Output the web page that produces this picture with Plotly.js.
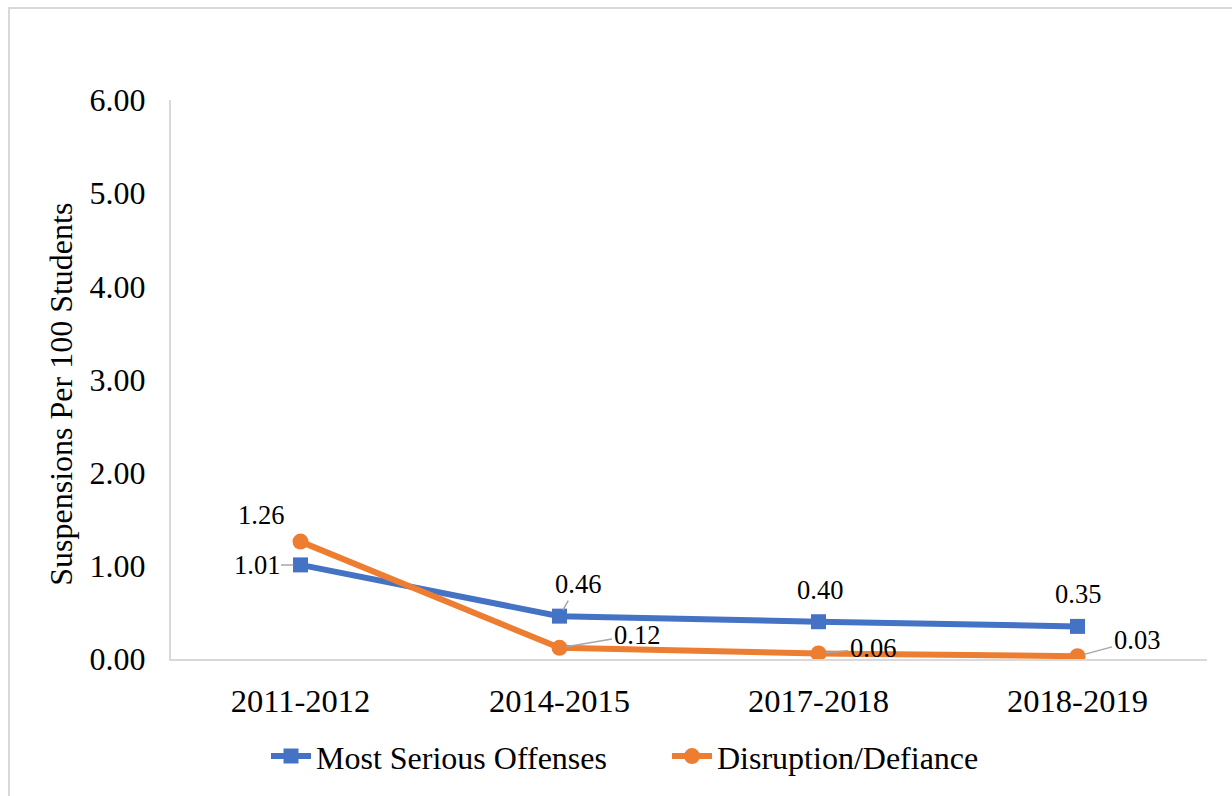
<!DOCTYPE html>
<html>
<head>
<meta charset="utf-8">
<script src="https://cdn.plot.ly/plotly-3.0.1.min.js"></script>
<style>
  html, body { margin: 0; padding: 0; background: #fff; }
  #frame { position: absolute; left: 8px; top: 7px; width: 1240px; height: 800px; border: 2px solid #D9D9D9; box-sizing: border-box; }
  #chart { position: absolute; left: 0; top: 0; width: 1232px; height: 796px; }
</style>
</head>
<body>
<div id="frame"></div>
<div id="chart"></div>
<script>
const categories = ["2011-2012", "2014-2015", "2017-2018", "2018-2019"];
const seriesNames = ["Most Serious Offenses", "Disruption/Defiance"];
const mostSerious = [1.01, 0.46, 0.40, 0.35];
const disruption = [1.26, 0.12, 0.06, 0.03];
const yTicks = [0, 1, 2, 3, 4, 5, 6];

// label offsets (pixels) and whether a leader line is drawn
const msOffsets = [[-44, 0, true], [18, -32, true], [1, -32, false], [0, -32, false]];
const ddOffsets = [[-40, -27, false], [77, -13, true], [54, -5, true], [59, -16, true]];

const font = "Liberation Serif, Times New Roman, serif";

function labels(values, offsets) {
  return values.map((v, i) => ({
    x: i, y: v, xref: 'x', yref: 'y',
    text: v.toFixed(2),
    showarrow: true,
    arrowhead: 0,
    arrowwidth: 1.5,
    arrowcolor: offsets[i][2] ? '#A6A6A6' : 'rgba(0,0,0,0)',
    standoff: 7,
    ax: offsets[i][0], ay: offsets[i][1],
    font: { family: font, size: 26.5, color: '#000' }
  }));
}

const traces = [
  {
    x: categories.map((c, i) => i), y: mostSerious, name: seriesNames[0],
    type: 'scatter', mode: 'lines+markers',
    line: { color: '#4472C4', width: 6 },
    marker: { symbol: 'square', size: 15, color: '#4472C4' }
  },
  {
    x: categories.map((c, i) => i), y: disruption, name: seriesNames[1],
    type: 'scatter', mode: 'lines+markers',
    line: { color: '#ED7D31', width: 6 },
    marker: { symbol: 'circle', size: 16, color: '#ED7D31' }
  }
];

const layout = {
  width: 1232, height: 796,
  paper_bgcolor: 'rgba(0,0,0,0)', plot_bgcolor: 'rgba(0,0,0,0)',
  margin: { l: 171, r: 25, t: 100, b: 134 },
  font: { family: font, color: '#000' },
  showlegend: true,
  legend: {
    orientation: 'h', x: 0.0917, xanchor: 'left', y: -0.174, yanchor: 'middle',
    font: { family: font, size: 32, color: '#000' },
    itemwidth: 40, entrywidth: 346, traceorder: 'normal'
  },
  xaxis: {
    range: [-0.5, 3.5], tickmode: 'array',
    tickvals: categories.map((c, i) => i), ticktext: categories,
    showgrid: false, zeroline: false,
    showline: true, linecolor: '#D9D9D9', linewidth: 2,
    ticks: '', ticklabelstandoff: 12,
    tickfont: { family: font, size: 32.5, color: '#000' }
  },
  yaxis: {
    range: [0, 6], tickmode: 'array', tickvals: yTicks,
    ticktext: yTicks.map(v => v.toFixed(2)),
    showgrid: false, zeroline: false,
    showline: true, linecolor: '#D9D9D9', linewidth: 2,
    ticks: '', ticklabelstandoff: 17,
    tickfont: { family: font, size: 32, color: '#000' }
  },
  annotations: [
    ...labels(mostSerious, msOffsets),
    ...labels(disruption, ddOffsets),
    {
      xref: 'paper', yref: 'paper', x: -0.107, y: 0.473,
      xanchor: 'center', yanchor: 'middle',
      text: 'Suspensions Per 100 Students', textangle: -90, showarrow: false,
      font: { family: font, size: 32, color: '#000' }
    }
  ]
};

Plotly.newPlot('chart', traces, layout, { displayModeBar: false, staticPlot: true });
</script>
</body>
</html>
